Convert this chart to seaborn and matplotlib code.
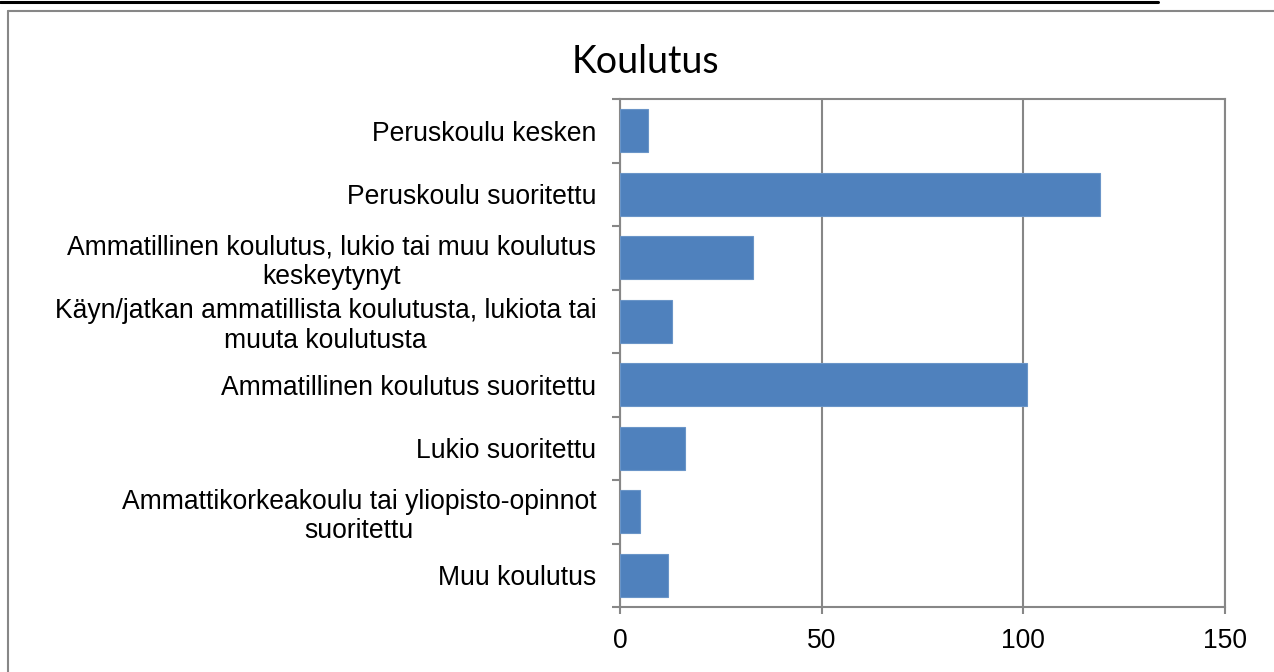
import matplotlib
matplotlib.use("Agg")
import matplotlib.pyplot as plt
from matplotlib.lines import Line2D
import pandas as pd
import seaborn as sns

# Data
categories = [
    "Peruskoulu kesken",
    "Peruskoulu suoritettu",
    "Ammatillinen koulutus, lukio tai muu koulutus\nkeskeytynyt",
    "Käyn/jatkan ammatillista koulutusta, lukiota tai\nmuuta koulutusta",
    "Ammatillinen koulutus suoritettu",
    "Lukio suoritettu",
    "Ammattikorkeakoulu tai yliopisto-opinnot\nsuoritettu",
    "Muu koulutus",
]
counts = [7, 119, 33, 13, 101, 16, 5, 12]
x_ticks = [0, 50, 100, 150]

df = pd.DataFrame({"Koulutus": categories, "Lukumäärä": counts})

sns.set_style("white")
plt.rcParams["font.family"] = ["Liberation Sans", "DejaVu Sans"]

grid_col = "#878787"

fig = plt.figure(figsize=(12.74, 6.72), dpi=100)
ax = fig.add_axes([620 / 1274, 1 - 607 / 672, (1225 - 620) / 1274, (607 - 99) / 672])

sns.barplot(data=df, x="Lukumäärä", y="Koulutus", orient="h", color="#4F81BD",
            saturation=1, width=0.68, ax=ax, edgecolor="#6A95C8", linewidth=0.8, zorder=3)

ax.set_xlim(0, 150)
ax.set_ylim(len(categories) - 0.5, -0.5)
ax.set_xticks(x_ticks)
ax.set_xticklabels([str(t) for t in x_ticks])
ax.set_xlabel("")
ax.set_ylabel("")

ax.xaxis.grid(True, color=grid_col, linewidth=1.5, zorder=0)
ax.set_axisbelow(True)
for sp in ax.spines.values():
    sp.set_color(grid_col)
    sp.set_linewidth(1.5)

# category labels, no major tick marks; boundary ticks as minor ticks
ax.tick_params(axis="y", which="major", length=0, pad=17, labelsize=19.1, labelcolor="black")
ax.set_yticks([i - 0.5 for i in range(len(categories) + 1)], minor=True)
ax.tick_params(axis="y", which="minor", direction="out", length=6, width=1.5, color=grid_col, left=True)
ax.tick_params(axis="x", direction="out", length=5, width=1.5, color=grid_col, bottom=True,
               pad=10, labelsize=19.1, labelcolor="black")
for lab in ax.get_yticklabels():
    lab.set_multialignment("center")
    lab.set_linespacing(1.18)

fig.text(645 / 1274, 1 - 62 / 672, "Koulutus", ha="center", va="center", color="black",
         fontsize=27, family=["Lato", "DejaVu Sans"])

# chart frame and page line
fig.add_artist(Line2D([8 / 1274, 1], [1 - 11 / 672, 1 - 11 / 672], transform=fig.transFigure,
                      color=grid_col, linewidth=1.5))
fig.add_artist(Line2D([8 / 1274, 8 / 1274], [1 - 11 / 672, 0], transform=fig.transFigure,
                      color=grid_col, linewidth=1.5))
fig.add_artist(Line2D([0, 1158 / 1274], [1 - 1.5 / 672, 1 - 1.5 / 672], transform=fig.transFigure,
                      color="black", linewidth=2.2))

fig.savefig("out.png", dpi=100)
